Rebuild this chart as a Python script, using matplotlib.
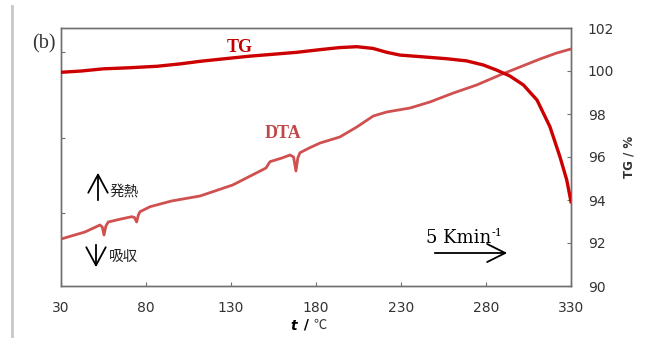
import matplotlib
matplotlib.use("Agg")
import matplotlib.pyplot as plt
from matplotlib.lines import Line2D

# ---- data ----
tg_temp = [30, 42, 54.7, 70, 86.5, 100, 111.8, 125, 141, 155, 168.8, 182, 194, 204, 213.5,
           221.6, 229.4, 241, 257, 268.6, 278.4, 286, 294, 302, 310, 317.6, 323.5, 327.5, 330]
tg_mass = [99.94, 100.0, 100.1, 100.15, 100.22, 100.33, 100.45, 100.56, 100.69, 100.78,
           100.87, 100.99, 101.09, 101.13, 101.05, 100.87, 100.74, 100.67, 100.57, 100.47,
           100.28, 100.05, 99.77, 99.35, 98.65, 97.41, 96.01, 94.93, 93.92]

dta_temp = [30, 44.1, 52.9, 54.3, 55.3, 56.4, 57.8, 64, 71.6, 73.2, 74.5, 75.5, 76.5, 82.4,
            95, 111.8, 131, 150.6, 152.9, 160, 164.7, 166.8, 168.2, 169.3, 170.6, 176,
            182.4, 188.2, 194, 204, 213.7, 221.6, 235.3, 247, 260.8, 274.5, 288.2, 300,
            311.8, 321.6, 330]
dta_signal = [47, 54, 61, 59, 51, 60, 64, 66.5, 69.3, 68.5, 64, 71, 74.3, 79.3,
              85, 90, 101, 118, 124.3, 128, 131, 129, 115, 128, 133.3, 138,
              143, 146, 149, 159, 170, 174, 178, 184, 193, 201, 211, 219,
              227, 233, 237]

x_ticks = [30, 80, 130, 180, 230, 280, 330]
tg_ticks = [90, 92, 94, 96, 98, 100, 102]
dta_ticks = [73, 148, 234]

W, H = 645, 338
fig = plt.figure(figsize=(W / 100, H / 100), dpi=100)
ax = fig.add_axes([61 / W, 1 - 286 / H, 510 / W, 258 / H])
ax2 = ax.twinx()

spine_c = "#707070"
tick_c = "#333333"

# DTA (left, arbitrary units)
ax.plot(dta_temp, dta_signal, color="#d05050", lw=2.0, solid_joinstyle="round",
        solid_capstyle="round", zorder=3)
ax.set_xlim(30, 330)
ax.set_ylim(0, 258)
ax.set_xticks(x_ticks)
ax.set_yticks(dta_ticks)
ax.set_yticklabels([])
ax.tick_params(axis="both", direction="in", length=3, color=spine_c, width=0.8,
               labelsize=10, labelcolor=tick_c)
ax.tick_params(axis="x", pad=11)
for s in ax.spines.values():
    s.set_color(spine_c)
    s.set_linewidth(1.0)

# TG (right)
ax2.plot(tg_temp, tg_mass, color="#cc0000", lw=2.4, solid_joinstyle="round", zorder=4)
ax2.set_ylim(90, 102)
ax2.set_yticks(tg_ticks)
ax2.tick_params(axis="y", direction="in", length=3, color=spine_c, width=0.8,
                labelsize=10, labelcolor=tick_c, pad=12)
for s in ax2.spines.values():
    s.set_color(spine_c)
    s.set_linewidth(1.0)

ax2.set_ylabel("TG / %", fontsize=8.5, fontweight="bold", color="#333333", labelpad=6)

# x label
fig.text(299 / W, 1 - 326 / H, r"$\boldsymbol{t}$", fontsize=10, ha="right", va="center")
fig.text(299 / W, 1 - 325 / H, " / ", fontsize=10, fontweight="bold", ha="left", va="center")
fig.text(313 / W, 1 - 325 / H, "℃", fontsize=9.5, family=["Noto Sans CJK JP", "DejaVu Sans"],
         ha="left", va="center", color="#333333")

serif = ["Liberation Serif", "DejaVu Serif"]
fig.text(44 / W, 1 - 44 / H, "(b)", fontsize=14.5, family=serif, ha="center", va="center",
         color="#333333")
fig.text(240 / W, 1 - 47 / H, "TG", fontsize=13, family=serif, fontweight="bold",
         color="#c00000", ha="center", va="center")
fig.text(283 / W, 1 - 133 / H, "DTA", fontsize=13, family=serif, fontweight="bold",
         color="#c04848", ha="center", va="center")
rate = fig.text(426 / W, 1 - 243 / H, "5 Kmin", fontsize=13, family=["DejaVu Serif"],
                ha="left", va="baseline", color="black")
fig.canvas.draw()
bb = rate.get_window_extent()
fig.text(bb.x1 / W + 0.5 / W, 1 - 236 / H, "-1", fontsize=8, family=["DejaVu Serif"],
         ha="left", va="baseline", color="black")

# arrows
arrow_kw = dict(arrowstyle="->,head_length=1.3,head_width=0.65", color="black", lw=1.3)
ax.annotate("", xy=(510, H - 253), xytext=(432, H - 253), xycoords="figure pixels",
            textcoords="figure pixels", arrowprops=arrow_kw)
arrow_kw2 = dict(arrowstyle="->,head_length=1.3,head_width=0.7", color="black", lw=1.3)
ax.annotate("", xy=(98, H - 170), xytext=(98, H - 203), xycoords="figure pixels",
            textcoords="figure pixels", arrowprops=arrow_kw2)
ax.annotate("", xy=(96, H - 270), xytext=(96, H - 242), xycoords="figure pixels",
            textcoords="figure pixels", arrowprops=arrow_kw2)

jp = ["Noto Sans CJK JP", "DejaVu Sans"]
fig.text(110 / W, 1 - 192 / H, "発熱", fontsize=10.5, family=jp, ha="left", va="center",
         color="#222222")
fig.text(109 / W, 1 - 257 / H, "吸収", fontsize=10.5, family=jp, ha="left", va="center",
         color="#222222")

# page border line at left
fig.add_artist(Line2D([12 / W, 12 / W], [0, 1 - 6 / H], transform=fig.transFigure,
                      color="#c8c8c8", lw=2))

fig.savefig("out.png", dpi=100)
